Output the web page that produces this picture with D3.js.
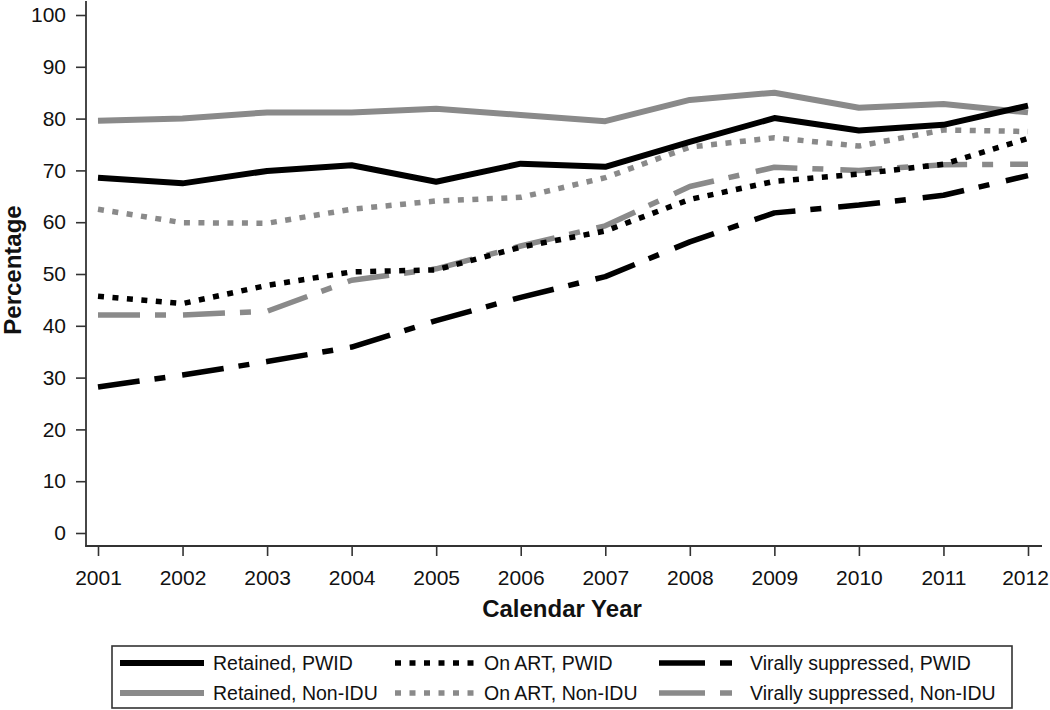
<!DOCTYPE html>
<html><head><meta charset="utf-8">
<script src="https://cdn.jsdelivr.net/npm/d3@7/dist/d3.min.js"></script>
<style>
html,body{margin:0;padding:0;background:#fff;}
svg{display:block;font-family:"Liberation Sans",Arial,sans-serif;}
</style></head>
<body>
<svg id="chart" width="1050" height="710"></svg>
<script>
const years = [2001,2002,2003,2004,2005,2006,2007,2008,2009,2010,2011,2012];
const yTicks = [0,10,20,30,40,50,60,70,80,90,100];
const retainedPWID   = [68.6,67.5,69.9,71.0,67.8,71.3,70.7,75.5,80.1,77.7,78.8,82.5];
const retainedNonIDU = [79.6,80.0,81.2,81.2,81.9,80.7,79.5,83.6,85.0,82.1,82.8,81.2];
const onArtPWID      = [45.7,44.3,47.8,50.4,50.8,55.2,58.3,64.4,67.9,69.3,71.2,76.2];
const onArtNonIDU    = [62.5,59.9,59.8,62.5,64.1,64.8,68.6,74.5,76.3,74.7,77.8,77.5];
const vsPWID         = [28.2,30.5,33.1,35.9,41.0,45.5,49.5,56.2,61.8,63.3,65.2,69.0];
const vsNonIDU       = [42.1,42.1,42.8,48.8,51.0,55.4,59.3,66.9,70.6,70.0,71.1,71.2];
const seriesNames = ["Retained, PWID","On ART, PWID","Virally suppressed, PWID",
                     "Retained, Non-IDU","On ART, Non-IDU","Virally suppressed, Non-IDU"];

const BLACK = "#000", GRAY = "#8a8a8a";
const SOLID = null, DOT = "6,8.5", DASHDOT = "42,15,11,17";
const series = [
  {name: seriesNames[3], values: retainedNonIDU, color: GRAY, dash: SOLID, w: 6},
  {name: seriesNames[4], values: onArtNonIDU, color: GRAY, dash: DOT, w: 5.5},
  {name: seriesNames[5], values: vsNonIDU, color: GRAY, dash: DASHDOT, w: 5.5},
  {name: seriesNames[0], values: retainedPWID, color: BLACK, dash: SOLID, w: 6},
  {name: seriesNames[1], values: onArtPWID, color: BLACK, dash: DOT, w: 5.5},
  {name: seriesNames[2], values: vsPWID, color: BLACK, dash: DASHDOT, w: 5.5}
];

const svg = d3.select("#chart");
const x = d3.scaleLinear().domain([2001,2012]).range([98,1028]);
const y = d3.scaleLinear().domain([0,100]).range([533,15]);
const AX = "#333";

// axes
const yAxis = svg.append("g").attr("transform","translate(86,0)")
  .call(d3.axisLeft(y).tickValues(yTicks).tickSize(10).tickPadding(10).tickSizeOuter(0));
yAxis.select(".domain").remove();
yAxis.selectAll("line").attr("stroke",AX).attr("stroke-width",1.6);
yAxis.selectAll("text").attr("font-size",21).attr("fill","#111")
  .attr("font-family","'Liberation Sans',Arial,sans-serif");

const xAxis = svg.append("g").attr("transform","translate(0,546)")
  .call(d3.axisBottom(x).tickValues(years).tickFormat(d3.format("d")).tickSize(10).tickPadding(14).tickSizeOuter(0));
xAxis.select(".domain").remove();
xAxis.selectAll("line").attr("stroke",AX).attr("stroke-width",1.6);
xAxis.selectAll("text").attr("font-size",21).attr("fill","#111")
  .attr("font-family","'Liberation Sans',Arial,sans-serif")
  .attr("dx",d=>d===2012?-3:0);

svg.append("line").attr("x1",86).attr("x2",86).attr("y1",1).attr("y2",546.8)
  .attr("stroke",AX).attr("stroke-width",1.8);
svg.append("line").attr("x1",85.2).attr("x2",1042).attr("y1",546).attr("y2",546)
  .attr("stroke",AX).attr("stroke-width",1.8);

// titles
svg.append("text").attr("x",562).attr("y",617).attr("text-anchor","middle")
  .attr("font-size",24).attr("font-weight","bold").attr("fill","#111").text("Calendar Year");
svg.append("text").attr("transform","translate(21,270) rotate(-90)").attr("text-anchor","middle")
  .attr("font-size",24).attr("font-weight","bold").attr("fill","#111").text("Percentage");

// lines
const line = d3.line().x((d,i)=>x(years[i])).y(d=>y(d));
svg.append("g").selectAll("path").data(series).join("path")
  .attr("d",d=>line(d.values))
  .attr("fill","none")
  .attr("stroke",d=>d.color)
  .attr("stroke-width",d=>d.w)
  .attr("stroke-dasharray",d=>d.dash)
  .attr("stroke-linejoin","round");

// legend
const lg = svg.append("g");
lg.append("rect").attr("x",112).attr("y",646).attr("width",900).attr("height",62)
  .attr("fill","none").attr("stroke",AX).attr("stroke-width",1.6);
const legendItems = [
  {name: seriesNames[0], color: BLACK, dash: SOLID, w:6, col:0, row:0},
  {name: seriesNames[1], color: BLACK, dash: DOT, w:5.5, col:1, row:0},
  {name: seriesNames[2], color: BLACK, dash: "46,15,12,200", w:5.5, col:2, row:0},
  {name: seriesNames[3], color: GRAY, dash: SOLID, w:6, col:0, row:1},
  {name: seriesNames[4], color: GRAY, dash: DOT, w:5.5, col:1, row:1},
  {name: seriesNames[5], color: GRAY, dash: "46,15,12,200", w:5.5, col:2, row:1}
];
const cols = [{x1:120,x2:204,tx:213},{x1:395,x2:476,tx:484},{x1:659,x2:732,tx:750}];
const rowsY = [663,693];
const items = lg.selectAll("g.item").data(legendItems).join("g");
items.append("line")
  .attr("x1",d=>cols[d.col].x1).attr("x2",d=>cols[d.col].x2)
  .attr("y1",d=>rowsY[d.row]).attr("y2",d=>rowsY[d.row])
  .attr("stroke",d=>d.color).attr("stroke-width",d=>d.w).attr("stroke-dasharray",d=>d.dash);
items.append("text")
  .attr("x",d=>cols[d.col].tx).attr("y",d=>rowsY[d.row]+7)
  .attr("font-size",19.5).attr("fill","#111").text(d=>d.name);
</script>
</body></html>
